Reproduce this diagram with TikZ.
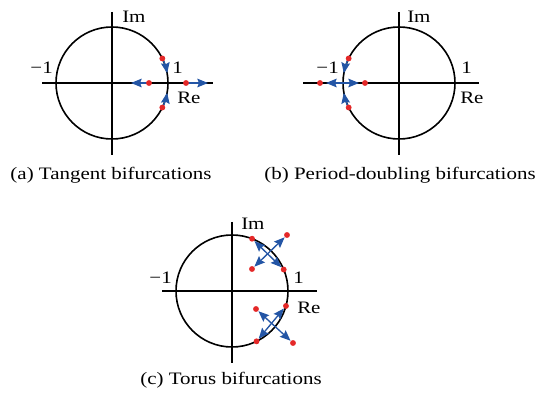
\documentclass[tikz,border=0pt]{standalone}
\usepackage{fontspec}
\setmainfont{Liberation Serif}[FakeStretch=1.2]
\usetikzlibrary{arrows.meta}
\definecolor{arrblue}{RGB}{35,85,165}
\definecolor{dotred}{RGB}{228,40,40}
\begin{document}
\begin{tikzpicture}[x=0.75pt,y=0.75pt,
  font=\fontsize{13.1}{15}\selectfont,
  axisline/.style={line width=1.5pt},
  unitc/.style={line width=1.2pt},
  evdot/.style={circle,fill=dotred,inner sep=0pt,minimum size=4.4pt},
  flow/.style={arrblue,line width=1pt,-{Stealth[length=8pt,width=6.5pt,inset=1.2pt]}},
  dflow/.style={arrblue,line width=1pt,{Stealth[length=8pt,width=6.5pt,inset=1.2pt]}-{Stealth[length=8pt,width=6.5pt,inset=1.2pt]},shorten <=2.5pt,shorten >=2.5pt},
  lbl/.style={inner sep=0pt}]
\useasboundingbox (0,0) rectangle (540,393);

% ---------------- (a) ----------------
\begin{scope}[shift={(112,310)}]
  \coordinate (aO) at (0,0);
  \coordinate (aW) at (-70,0);
  \coordinate (aE) at (101,0);
  \coordinate (aN) at (0,71);
  \coordinate (aS) at (0,-72);
  \draw[unitc] (aO) circle[radius=56];
  \draw[axisline] (aW) -- (aE);
  \draw[axisline] (aN) -- (aS);
  \coordinate (a1) at (26:56);
  \coordinate (a2) at (-26:56);
  \coordinate (a3) at (37,0);
  \coordinate (a4) at (74,0);
  \coordinate (a3t) at (19,0);
  \coordinate (a4t) at (96,0);
  \draw[flow] (a1) arc[start angle=26,end angle=10,radius=56];
  \draw[flow] (a2) arc[start angle=-26,end angle=-10,radius=56];
  \draw[flow] (a3) -- (a3t);
  \draw[flow] (a4) -- (a4t);
  \node[evdot] (a1d) at (a1) {};
  \node[evdot] (a2d) at (a2) {};
  \node[evdot] (a3d) at (a3) {};
  \node[evdot] (a4d) at (a4) {};
  \node[lbl,anchor=base west] (aIm) at (10,60) {Im};
  \node[lbl,anchor=base west] (aOne) at (60,9) {1};
  \node[lbl,anchor=base east] (aMOne) at (-59,9) {−1};
  \node[lbl,anchor=base west] (aRe) at (65,-21) {Re};
\end{scope}
\node[lbl,anchor=base] (capA) at (111,213) {(a) Tangent bifurcations};

% ---------------- (b) ----------------
\begin{scope}[shift={(399,310)}]
  \coordinate (bO) at (0,0);
  \coordinate (bW) at (-96,0);
  \coordinate (bE) at (80,0);
  \coordinate (bN) at (0,71);
  \coordinate (bS) at (0,-72);
  \draw[unitc] (bO) circle[radius=56];
  \draw[axisline] (bW) -- (bE);
  \draw[axisline] (bN) -- (bS);
  \coordinate (b1) at (154:56);
  \coordinate (b2) at (206:56);
  \coordinate (b3) at (-79,0);
  \coordinate (b4) at (-34,0);
  \coordinate (bM) at (-56,0);
  \coordinate (b3t) at (-73,0);
  \coordinate (b4t) at (-40,0);
  \draw[flow] (b1) arc[start angle=154,end angle=170,radius=56];
  \draw[flow] (b2) arc[start angle=206,end angle=190,radius=56];
  \draw[flow] (bM) -- (b3t);
  \draw[flow] (bM) -- (b4t);
  \node[evdot] (b1d) at (b1) {};
  \node[evdot] (b2d) at (b2) {};
  \node[evdot] (b3d) at (b3) {};
  \node[evdot] (b4d) at (b4) {};
  \node[lbl,anchor=base west] (bIm) at (8,60) {Im};
  \node[lbl,anchor=base west] (bOne) at (62,9) {1};
  \node[lbl,anchor=base east] (bMOne) at (-60,9) {−1};
  \node[lbl,anchor=base west] (bRe) at (61,-21) {Re};
\end{scope}
\node[lbl,anchor=base] (capB) at (400,213) {(b) Period-doubling bifurcations};

% ---------------- (c) ----------------
\begin{scope}[shift={(232,102)}]
  \coordinate (cO) at (0,0);
  \coordinate (cW) at (-70,0);
  \coordinate (cE) at (85,0);
  \coordinate (cN) at (0,69);
  \coordinate (cS) at (0,-72);
  \draw[unitc] (cO) circle[radius=56];
  \draw[axisline] (cW) -- (cE);
  \draw[axisline] (cN) -- (cS);
  \coordinate (c1) at (69:56);
  \coordinate (c2) at (22.5:56);
  \coordinate (c3) at (55,56);
  \coordinate (c4) at (20,22);
  \coordinate (c5) at (-15.5:56);
  \coordinate (c6) at (-64:56);
  \coordinate (c7) at (24,-18);
  \coordinate (c8) at (61,-52);
  \draw[dflow] (c1) -- (c2);
  \draw[dflow] (c3) -- (c4);
  \draw[dflow] (c5) -- (c6);
  \draw[dflow] (c7) -- (c8);
  \foreach \p in {c1,c2,c3,c4,c5,c6,c7,c8}{\node[evdot] (\p d) at (\p) {};}
  \node[lbl,anchor=base west] (cIm) at (9,61) {Im};
  \node[lbl,anchor=base west] (cOne) at (61,7) {1};
  \node[lbl,anchor=base east] (cMOne) at (-60,7) {−1};
  \node[lbl,anchor=base west] (cRe) at (65,-23) {Re};
\end{scope}
\node[lbl,anchor=base] (capC) at (231,8) {(c) Torus bifurcations};
\end{tikzpicture}
\end{document}
